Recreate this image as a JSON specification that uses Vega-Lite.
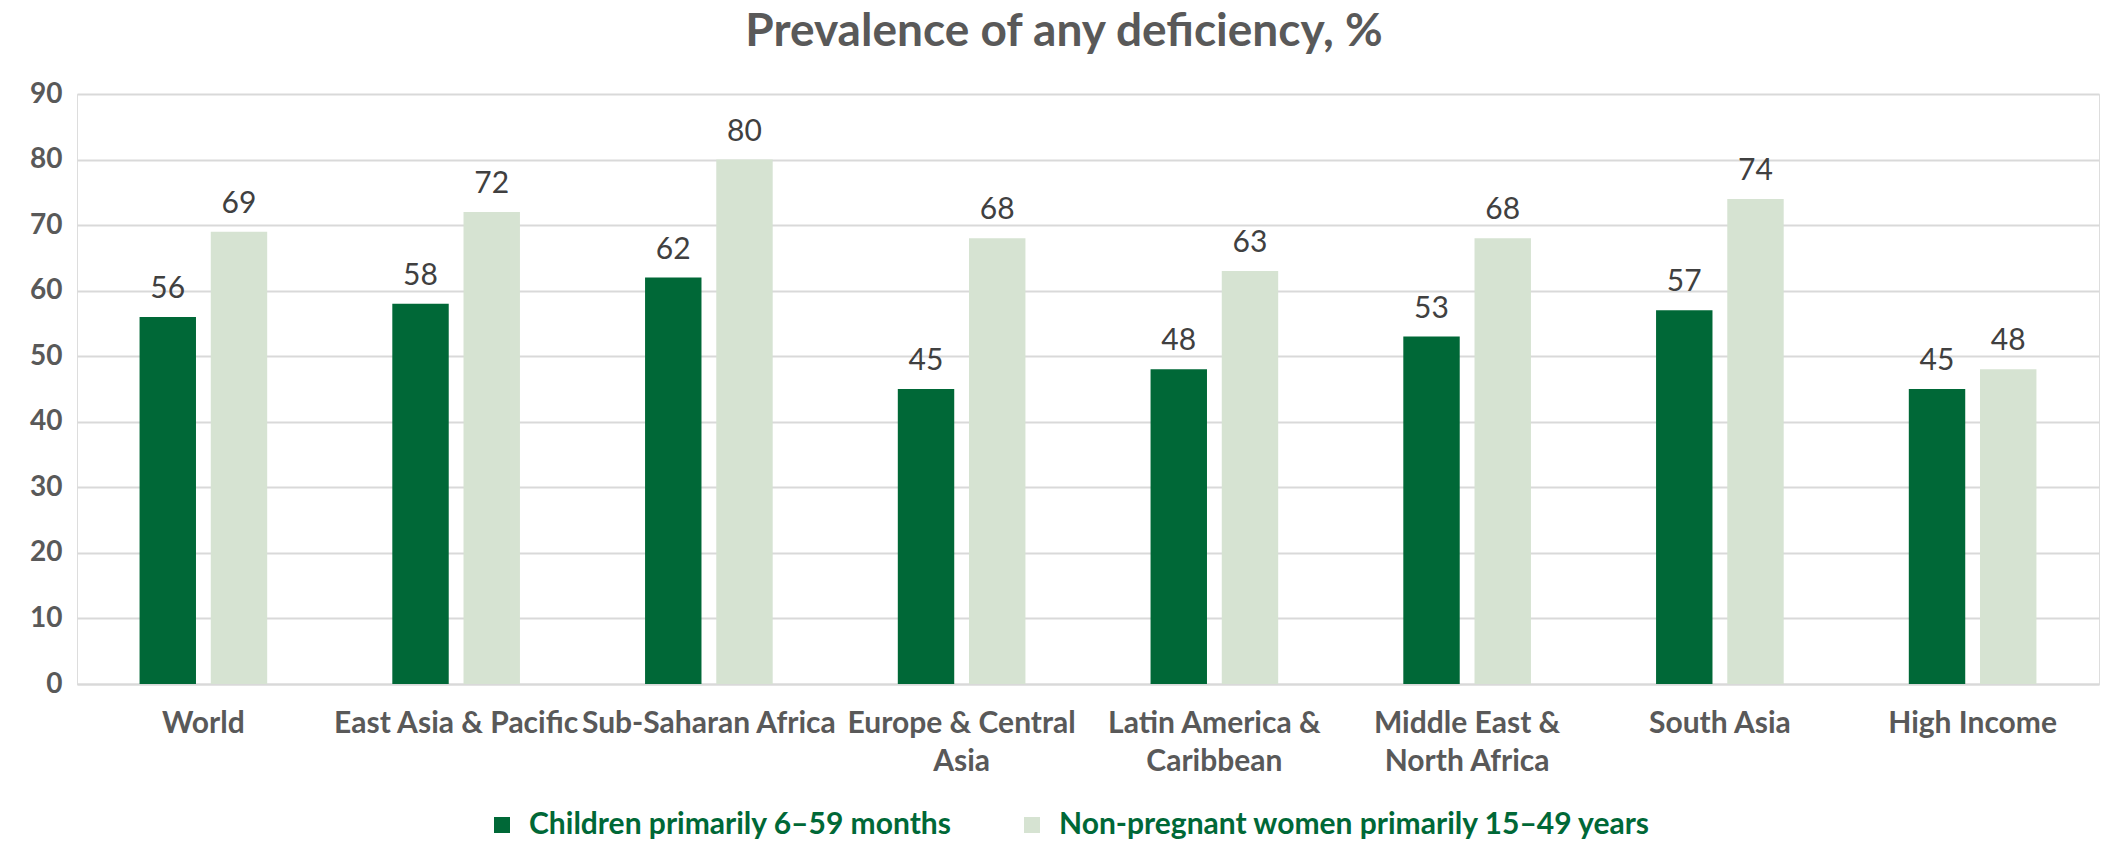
{
  "$schema": "https://vega.github.io/schema/vega-lite/v6.json",
  "autosize": {"type": "none"},
  "padding": {"left": 77, "top": 94, "right": 9, "bottom": 158},
  "width": 2022,
  "height": 590,
  "background": "white",
  "title": {
    "text": "Prevalence of any deficiency, %",
    "font": "Lato",
    "fontSize": 46,
    "fontWeight": "bold",
    "color": "#595959",
    "anchor": "middle",
    "baseline": "alphabetic",
    "offset": -12,
    "dx": -24
  },
  "data": {
    "values": [
      {"region": "World", "group": "Children primarily 6–59 months", "value": 56},
      {"region": "World", "group": "Non-pregnant women primarily 15–49 years", "value": 69},
      {"region": "East Asia & Pacific", "group": "Children primarily 6–59 months", "value": 58},
      {"region": "East Asia & Pacific", "group": "Non-pregnant women primarily 15–49 years", "value": 72},
      {"region": "Sub-Saharan Africa", "group": "Children primarily 6–59 months", "value": 62},
      {"region": "Sub-Saharan Africa", "group": "Non-pregnant women primarily 15–49 years", "value": 80},
      {"region": "Europe & Central Asia", "group": "Children primarily 6–59 months", "value": 45},
      {"region": "Europe & Central Asia", "group": "Non-pregnant women primarily 15–49 years", "value": 68},
      {"region": "Latin America & Caribbean", "group": "Children primarily 6–59 months", "value": 48},
      {"region": "Latin America & Caribbean", "group": "Non-pregnant women primarily 15–49 years", "value": 63},
      {"region": "Middle East & North Africa", "group": "Children primarily 6–59 months", "value": 53},
      {"region": "Middle East & North Africa", "group": "Non-pregnant women primarily 15–49 years", "value": 68},
      {"region": "South Asia", "group": "Children primarily 6–59 months", "value": 57},
      {"region": "South Asia", "group": "Non-pregnant women primarily 15–49 years", "value": 74},
      {"region": "High Income", "group": "Children primarily 6–59 months", "value": 45},
      {"region": "High Income", "group": "Non-pregnant women primarily 15–49 years", "value": 48}
    ]
  },
  "encoding": {
    "x": {
      "field": "region",
      "type": "nominal",
      "sort": null,
      "title": null,
      "scale": {"paddingInner": 0.495, "paddingOuter": 0.2475},
      "axis": {
        "labelAngle": 0,
        "labelFont": "Lato",
        "labelFontSize": 30,
        "labelFontWeight": "bold",
        "labelColor": "#595959",
        "labelPadding": 24,
        "labelLineHeight": 38,
        "labelLimit": 400,
        "labelBaseline": "top",
        "ticks": false,
        "domainColor": "#d9d9d9",
        "domainWidth": 2,
        "labelExpr": "datum.label == 'Europe & Central Asia' ? ['Europe & Central', 'Asia'] : datum.label == 'Latin America & Caribbean' ? ['Latin America &', 'Caribbean'] : datum.label == 'Middle East & North Africa' ? ['Middle East &', 'North Africa'] : datum.label"
      }
    },
    "xOffset": {
      "field": "group",
      "type": "nominal",
      "sort": null,
      "scale": {"paddingInner": 0.2076, "paddingOuter": 0}
    },
    "y": {
      "field": "value",
      "type": "quantitative",
      "title": null,
      "scale": {"domain": [0, 90], "nice": false},
      "axis": {
        "values": [0, 10, 20, 30, 40, 50, 60, 70, 80, 90],
        "labelFont": "Lato",
        "labelFontSize": 28,
        "labelFontWeight": "bold",
        "labelColor": "#595959",
        "labelPadding": 15,
        "ticks": false,
        "domain": false,
        "gridColor": "#d9d9d9",
        "gridWidth": 2
      }
    }
  },
  "layer": [
    {
      "mark": {"type": "bar"},
      "encoding": {
        "color": {
          "field": "group",
          "type": "nominal",
          "sort": null,
          "scale": {"range": ["#006837", "#d6e3d2"]},
          "legend": {
            "title": null,
            "orient": "none",
            "direction": "horizontal",
            "legendX": 410,
            "legendY": 716,
            "symbolType": "square",
            "symbolSize": 256,
            "symbolStrokeWidth": 0,
            "labelFont": "Lato",
            "labelFontSize": 30,
            "labelFontWeight": "bold",
            "labelColor": "#006837",
            "labelOffset": 12,
            "labelLimit": 800,
            "columnPadding": 65
          }
        }
      }
    },
    {
      "mark": {"type": "text", "baseline": "alphabetic", "dy": -19, "font": "Lato", "fontSize": 30, "color": "#404040"},
      "encoding": {
        "text": {"field": "value", "type": "quantitative"}
      }
    }
  ]
}
